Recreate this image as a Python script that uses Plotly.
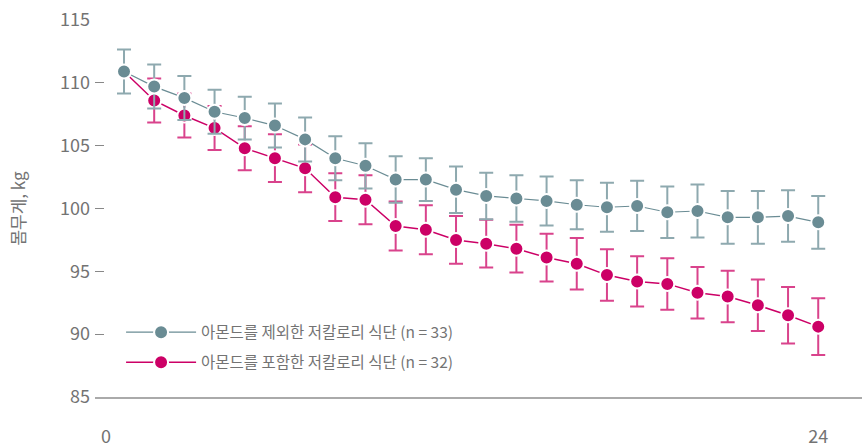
import plotly.graph_objects as go

# Weekly body weight (kg), mean with error bars, two diet groups
weeks = list(range(1, 25))

without_almonds = [110.9, 109.7, 108.8, 107.7, 107.2, 106.6, 105.5, 104.0, 103.4, 102.3,
                   102.3, 101.5, 101.0, 100.8, 100.6, 100.3, 100.1, 100.2, 99.7, 99.8,
                   99.3, 99.3, 99.4, 98.9]
without_err = [1.75, 1.75, 1.75, 1.75, 1.7, 1.75, 1.75, 1.75, 1.8, 1.85,
               1.7, 1.85, 1.85, 1.85, 1.95, 1.95, 1.95, 2.0, 2.05, 2.1,
               2.1, 2.1, 2.05, 2.1]

# both groups start from the same baseline; the shared first point carries one bar
with_almonds = [110.9, 108.6, 107.4, 106.4, 104.8, 104.0, 103.2, 100.9, 100.7, 98.6,
                98.3, 97.5, 97.2, 96.8, 96.1, 95.6, 94.7, 94.2, 94.0, 93.3,
                93.0, 92.3, 91.5, 90.6]
with_err = [0, 1.75, 1.75, 1.75, 1.75, 1.9, 1.9, 1.9, 1.95, 1.95,
            1.95, 1.9, 1.9, 1.9, 1.9, 2.05, 2.05, 2.0, 2.05, 2.05,
            2.05, 2.05, 2.25, 2.25]

name_without = "아몬드를 제외한 저칼로리 식단 (n = 33)"
name_with = "아몬드를 포함한 저칼로리 식단 (n = 32)"

y_ticks = [85, 90, 95, 100, 105, 110, 115]
x_tick_text = ["0", "24"]

TEAL = "#6a8c94"
TEAL_BAR = "#8ea9af"
MAGENTA = "#cc0066"
MAGENTA_BAR = "#d9438c"
FONT = "Noto Sans CJK KR"
TEXT = "#737373"

fig = go.Figure()

fig.add_trace(go.Scatter(
    x=weeks, y=with_almonds, name=name_with, mode="lines+markers",
    legendgroup="with", legendrank=2,
    line=dict(color=MAGENTA, width=1.5),
    marker=dict(size=14, color=MAGENTA, line=dict(color="white", width=2)),
    error_y=dict(type="data", array=with_err, color=MAGENTA_BAR, thickness=2, width=7),
))

fig.add_trace(go.Scatter(
    x=weeks, y=without_almonds, name=name_without, mode="lines+markers",
    legendgroup="without", legendrank=1,
    line=dict(color=TEAL, width=1.2),
    marker=dict(size=14, color=TEAL, line=dict(color="white", width=2)),
    error_y=dict(type="data", array=without_err, color=TEAL_BAR, thickness=2, width=7),
))

fig.update_layout(
    width=862, height=447,
    margin=dict(l=95, r=0, t=20, b=50, autoexpand=False),
    paper_bgcolor="white", plot_bgcolor="white",
    font=dict(family=FONT, color=TEXT, size=15),
    showlegend=True,
    legend=dict(
        x=0.034, y=0.131, xanchor="left", yanchor="middle",
        traceorder="grouped", tracegroupgap=7,
        bgcolor="rgba(0,0,0,0)",
        font=dict(size=15.5, color=TEXT), itemwidth=70,
    ),
    xaxis=dict(
        range=[0.039, 25.45], showgrid=False, zeroline=False,
        showline=True, linecolor="#aaaaaa", linewidth=2,
        ticks="", tickvals=[0.4, 24], ticktext=x_tick_text,
        ticklabelstandoff=22, tickfont=dict(size=18, color=TEXT),
        automargin=False,
    ),
    yaxis=dict(
        range=[85, 115], showgrid=False, zeroline=False, showline=False,
        ticks="inside", ticklen=9, tickwidth=1, tickcolor="#888888",
        tickvals=y_ticks, tickfont=dict(size=18, color=TEXT),
        ticklabelstandoff=4, automargin=False,
        title=dict(text="몸무게, kg", font=dict(size=17, color=TEXT), standoff=30),
    ),
)

fig.write_html("out.html")
